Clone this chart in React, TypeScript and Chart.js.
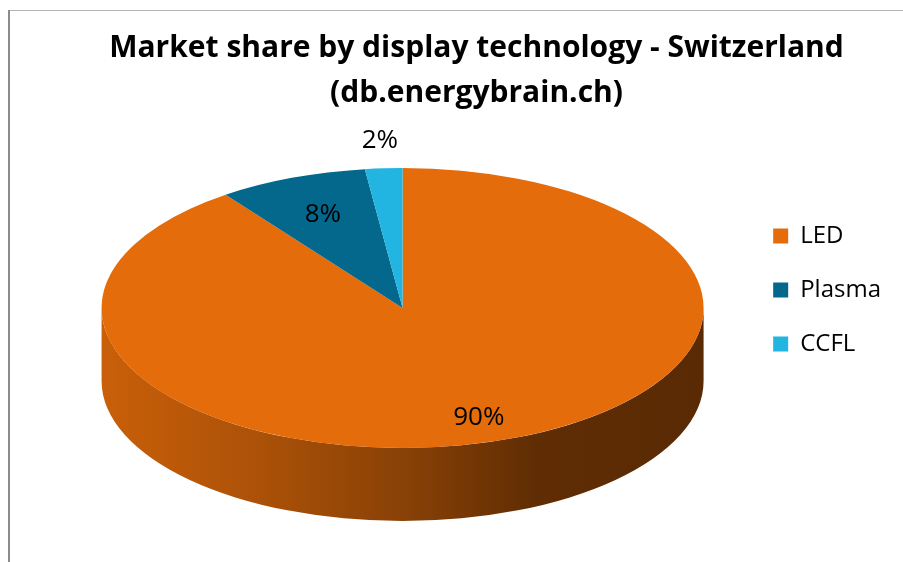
import { useEffect, useRef } from 'react';
import { Chart, registerables } from 'chart.js';

Chart.register(...registerables);

// ---- data ----
const CATEGORIES = ['LED', 'Plasma', 'CCFL'];
const SHARES = [90, 8, 2];
const TITLE_LINES = ['Market share by display technology - Switzerland', '(db.energybrain.ch)'];

// ---- style ----
const COLORS = ['#E46C0A', '#03688C', '#23B5E1'];
const FONT = "'Open Sans', 'DejaVu Sans', sans-serif";
const TILT = 0.465; // vertical squash of the top face
const DEPTH = 73; // thickness of the 3D side in px
const LABEL_RADIUS = [0.82, 0.72, 1.2];

function shade(hex: string, f: number): string {
  const n = parseInt(hex.slice(1), 16);
  const r = Math.round(((n >> 16) & 255) * f);
  const g = Math.round(((n >> 8) & 255) * f);
  const b = Math.round((n & 255) * f);
  return `rgb(${r},${g},${b})`;
}

const frame = {
  id: 'frame',
  beforeDraw(chart: any) {
    const ctx = chart.ctx;
    ctx.save();
    ctx.fillStyle = '#ffffff';
    ctx.fillRect(0, 0, chart.width, chart.height);
    ctx.fillStyle = '#b4b4b4';
    ctx.fillRect(8, 10, chart.width - 8, 1);
    ctx.fillStyle = '#8c8c8c';
    ctx.fillRect(8, 10, 2, chart.height - 10);
    ctx.restore();
  },
};

const pie3d = {
  id: 'pie3d',
  beforeDatasetsDraw(chart: any) {
    const meta = chart.getDatasetMeta(0);
    const arcs = meta.data;
    if (!arcs.length) return;
    const ctx = chart.ctx;
    const { x, y, outerRadius } = arcs[0].getProps(['x', 'y', 'outerRadius'], true);
    const rx = outerRadius;
    const ry = outerRadius * TILT;
    const cy = y - DEPTH / 2;
    const TAU = Math.PI * 2;
    arcs.forEach((arc: any, i: number) => {
      const { startAngle, endAngle } = arc.getProps(['startAngle', 'endAngle'], true);
      const color = COLORS[i];
      for (const k of [-1, 0, 1]) {
        const lo = Math.max(startAngle, k * TAU);
        const hi = Math.min(endAngle, k * TAU + Math.PI);
        if (hi <= lo) continue;
        const a1 = lo - k * TAU;
        const a2 = hi - k * TAU;
        const grad = ctx.createLinearGradient(x - rx, 0, x + rx, 0);
        grad.addColorStop(0, shade(color, 0.88));
        grad.addColorStop(0.25, shade(color, 0.76));
        grad.addColorStop(0.5, shade(color, 0.6));
        grad.addColorStop(0.72, shade(color, 0.42));
        grad.addColorStop(1, shade(color, 0.39));
        ctx.save();
        ctx.beginPath();
        ctx.ellipse(x, cy, rx, ry, 0, a1, a2);
        ctx.ellipse(x, cy + DEPTH, rx, ry, 0, a2, a1, true);
        ctx.closePath();
        ctx.fillStyle = grad;
        ctx.fill();
        ctx.restore();
      }
    });
    ctx.save();
    ctx.translate(x, cy);
    ctx.scale(1, TILT);
    ctx.translate(-x, -y);
  },
  afterDatasetsDraw(chart: any) {
    const meta = chart.getDatasetMeta(0);
    const arcs = meta.data;
    if (!arcs.length) return;
    const ctx = chart.ctx;
    ctx.restore();
    const { x, y, outerRadius } = arcs[0].getProps(['x', 'y', 'outerRadius'], true);
    const rx = outerRadius;
    const ry = outerRadius * TILT;
    const cy = y - DEPTH / 2;
    ctx.save();
    ctx.font = `26px ${FONT}`;
    ctx.fillStyle = '#000000';
    ctx.textAlign = 'center';
    ctx.textBaseline = 'middle';
    arcs.forEach((arc: any, i: number) => {
      const { startAngle, endAngle } = arc.getProps(['startAngle', 'endAngle'], true);
      const mid = (startAngle + endAngle) / 2;
      const f = LABEL_RADIUS[i];
      const lx = x + Math.cos(mid) * rx * f;
      const ly = cy + Math.sin(mid) * ry * f;
      ctx.fillText(`${SHARES[i]}%`, lx, ly);
    });
    ctx.restore();
  },
};

export default function App() {
  const ref = useRef<HTMLCanvasElement | null>(null);
  useEffect(() => {
    document.body.style.margin = '0';
    const canvas = ref.current;
    if (!canvas) return;
    const chart = new Chart(canvas, {
      type: 'pie',
      data: {
        labels: CATEGORIES,
        datasets: [
          {
            data: SHARES,
            backgroundColor: COLORS,
            borderWidth: 0,
            radius: 301,
            clip: false,
          } as any,
        ],
      },
      options: {
        responsive: false,
        animation: false,
        events: [],
        layout: { padding: { left: 62, right: 12, top: 18, bottom: 0 } },
        plugins: {
          title: {
            display: true,
            text: TITLE_LINES,
            color: '#000000',
            font: { family: FONT, size: 30, weight: 'bold', lineHeight: 1.5 },
            padding: { top: 8, bottom: 11 },
          },
          legend: {
            position: 'right',
            labels: {
              color: '#000000',
              font: { family: FONT, size: 24 },
              boxWidth: 15,
              boxHeight: 15,
              padding: 30,
            },
          },
          tooltip: { enabled: false },
        },
      },
      plugins: [frame, pie3d],
    });
    return () => chart.destroy();
  }, []);
  return (
    <div style={{ width: 903, height: 562 }}>
      <canvas ref={ref} width={903} height={562} style={{ display: 'block' }} />
    </div>
  );
}
